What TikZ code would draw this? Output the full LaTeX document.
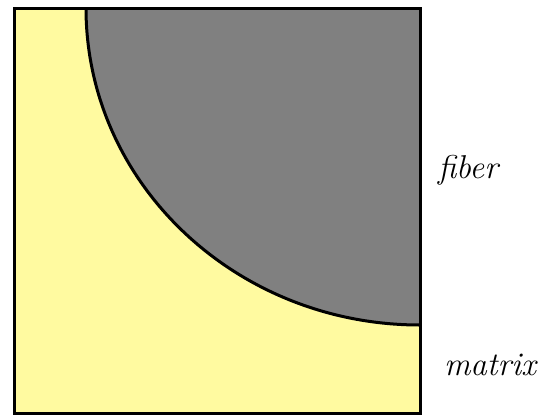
\documentclass[tikz,border=0pt]{standalone}
\definecolor{cmatrix}{RGB}{255,250,160}
\definecolor{cfiber}{RGB}{128,128,128}
\tikzset{cell/.style={x=1pt,y=-1pt,line width=3pt},
  phase/.style={font=\fontsize{33}{38}\selectfont\itshape}}
\begin{document}
\begin{tikzpicture}[cell]
    \useasboundingbox (0,0) rectangle (541,416);
    \fill[cmatrix] (14,8) rectangle (420,413);
    \fill[cfiber] (86,8) arc[start angle=180,end angle=90,x radius=334,y radius=317] -- (420,8) -- cycle;
    \draw (86,8) arc[start angle=180,end angle=90,x radius=334,y radius=317];
    \draw (14,8) rectangle (420,413);
    \node[phase] (fiber) at (468,170) {fiber};
    \node[phase] (matrix) at (490,365) {matrix};
\end{tikzpicture}
\end{document}
